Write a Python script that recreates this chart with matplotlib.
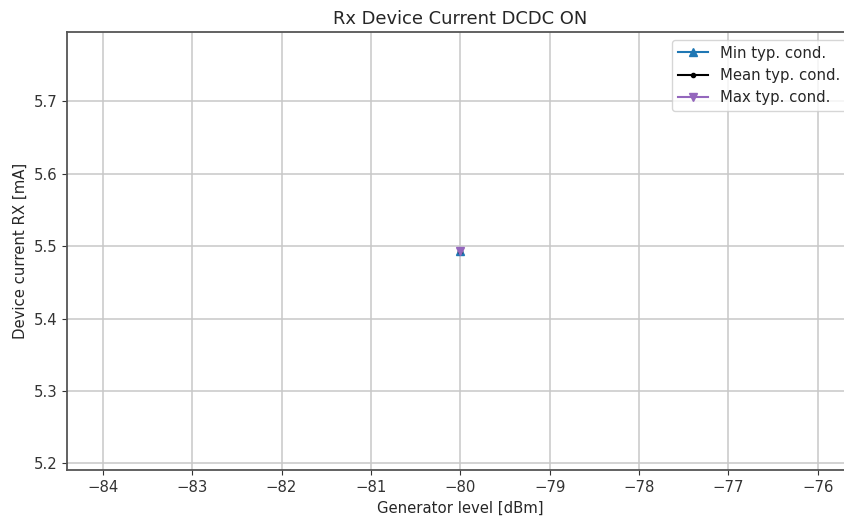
import numpy as np
import matplotlib
matplotlib.use("Agg")
import matplotlib.pyplot as plt

# generator level sweep (dBm) and measured device current (mA)
gen_level = [-80]
i_min = [5.493]
i_mean = [5.493]
i_max = [5.493]

plt.rcParams["font.size"] = 10.7
plt.rcParams["text.color"] = "#262626"
plt.rcParams["axes.labelcolor"] = "#262626"
plt.rcParams["xtick.color"] = "#333333"
plt.rcParams["ytick.color"] = "#333333"

fig = plt.figure(figsize=(8.44, 5.2), dpi=100)
ax = fig.add_axes([0.0794, 0.096, 0.932, 0.842])

ax.plot(gen_level, i_min, marker="^", color="tab:blue", label="Min typ. cond.")
ax.plot(gen_level, i_mean, marker=".", color="black", label="Mean typ. cond.")
ax.plot(gen_level, i_max, marker="v", color="tab:purple", label="Max typ. cond.")

ax.set_title("Rx Device Current DCDC ON")
ax.set_xlabel("Generator level [dBm]")
ax.set_ylabel("Device current RX [mA]")
ax.grid(True, color="#c8c8c8", linewidth=1.1)
for sp in ax.spines.values():
    sp.set_linewidth(1.3)
    sp.set_color("#555555")
ax.legend(loc="upper right")

fig.savefig("out.png", dpi=100)
